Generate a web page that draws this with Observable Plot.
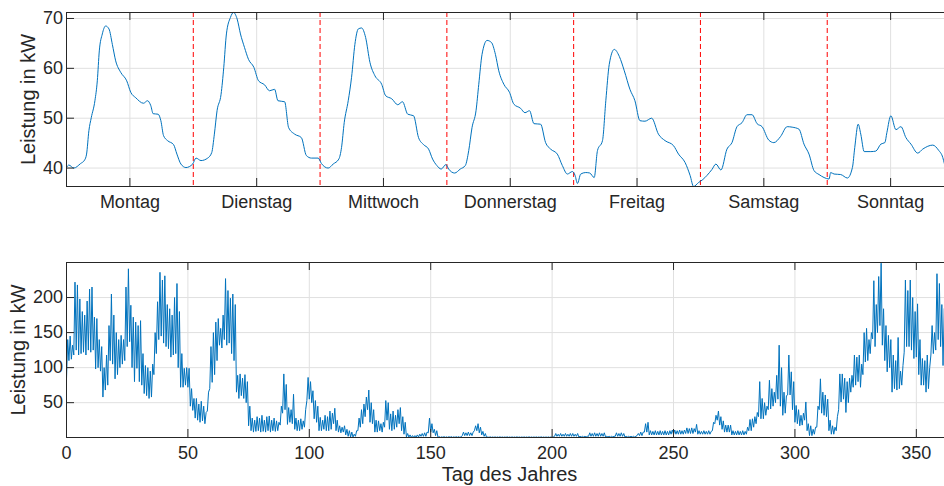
<!DOCTYPE html>
<html>
<head>
<meta charset="utf-8">
<script src="https://cdn.jsdelivr.net/npm/d3@7"></script>
<script src="https://cdn.jsdelivr.net/npm/@observablehq/plot@0.6"></script>
<style>
  body { margin: 0; background: #ffffff; }
  #chart svg { display: block; }
</style>
</head>
<body>
<div id="chart"></div>
<script>
// ---------- data: top panel (one week, hourly load) ----------
const weekDays = ["Montag", "Dienstag", "Mittwoch", "Donnerstag", "Freitag", "Samstag", "Sonntag"];
const weekHours = [
  0.0, 0.44, 1.39, 2.66, 3.42, 3.80, 4.24, 4.69, 5.38, 5.83, 6.21, 6.78, 7.41, 8.04, 8.68, 9.31, 10.26, 11.40,
  12.16, 13.11, 14.57, 15.33, 15.96, 16.40, 17.35, 17.86, 18.37, 19.13, 20.27, 20.90, 21.66, 22.61, 23.88,
  24.51, 25.46, 26.73, 27.49, 27.99, 28.50, 29.26, 29.77, 30.27, 31.03, 31.60, 32.30, 32.93, 33.69, 34.45,
  35.47, 36.35, 37.49, 38.44, 39.39, 40.03, 41.29, 42.05, 43.19, 44.46, 45.41, 46.36, 47.63,
  48.26, 49.53, 50.48, 51.55, 52.06, 52.57, 53.33, 53.96, 54.59, 55.23, 55.86, 56.62, 57.44, 58.39, 59.66,
  60.42, 61.56, 62.70, 63.60, 64.60, 65.69, 66.64, 67.59, 68.54, 69.30, 70.11, 70.93, 71.82,
  72.34, 73.48, 74.54, 75.49, 76.14, 76.76, 77.52, 78.04, 78.66, 79.61, 80.43, 81.19, 81.83, 82.79, 83.85,
  84.69, 85.94, 86.78, 87.65, 88.49, 89.74, 90.69, 91.64, 92.91, 93.86, 94.81, 95.76,
  96.28, 96.71, 97.34, 98.29, 99.05, 99.89, 100.51, 101.46, 102.09, 102.74, 103.69, 104.64, 105.59, 106.65,
  107.60, 108.55, 109.50, 110.77, 112.05, 113.30, 114.90, 115.85, 117.10, 118.05, 118.70, 119.65,
  120.46, 121.22, 122.17, 122.93, 123.88, 125.02, 125.97, 126.92, 127.87, 128.82, 129.77, 130.72, 131.67,
  132.94, 133.90, 135.15, 136.42, 137.37, 138.65, 139.60, 140.55, 141.50, 142.45, 143.40, 144.35,
  144.65, 145.30, 146.55, 147.82, 148.77, 149.21, 149.86, 150.35, 151.00, 152.25, 153.20, 154.15, 154.91,
  155.29, 156.05, 157.00, 157.95, 158.90, 159.85, 161.13, 162.08, 163.98, 165.06, 165.88, 166.2
];
const weekKW = [
  40.1, 40.6, 40.0, 40.9, 41.6, 42.8, 47.5, 50.1, 53.5, 57.5, 63.5, 66.9, 68.5, 67.9, 64.8, 61.5, 59.2, 57.5,
  55.2, 54.1, 53.0, 53.5, 52.5, 50.9, 50.8, 49.5, 46.5, 45.5, 44.7, 42.8, 40.8, 40.1, 40.8,
  42.0, 41.5, 42.0, 43.1, 46.8, 51.5, 54.8, 60.2, 66.9, 70.2, 71.2, 69.9, 66.9, 64.2, 61.8,
  60.2, 57.5, 56.7, 55.5, 55.8, 53.5, 53.3, 48.1, 46.8, 46.1, 42.5, 42.0, 42.0,
  40.9, 40.0, 40.8, 41.8, 44.1, 49.1, 53.5, 58.2, 64.8, 67.9, 68.1, 66.2, 61.2, 58.5, 56.8,
  54.5, 53.9, 52.7, 53.3, 50.8, 50.5, 46.1, 44.7, 43.8, 41.8, 40.5, 39.8, 40.7,
  39.8, 39.0, 39.8, 40.5, 43.5, 48.1, 51.5, 56.8, 62.8, 65.6, 65.2, 62.8, 59.5, 56.8, 55.2,
  52.8, 52.0, 51.1, 51.5, 48.9, 48.8, 45.1, 43.8, 42.8, 40.5, 38.8, 39.3,
  38.5, 36.9, 38.8, 39.1, 39.0, 38.1, 43.5, 45.5, 53.5, 60.8, 63.8, 62.4, 59.5, 55.8,
  53.5, 49.5, 49.4, 50.0, 46.8, 45.5, 44.5, 42.8, 41.1, 38.5, 36.3, 37.1,
  37.7, 38.5, 39.7, 40.8, 39.6, 43.8, 45.1, 48.3, 49.1, 50.7, 50.7, 48.9, 48.3,
  45.6, 45.1, 46.3, 48.3, 48.2, 47.8, 44.8, 42.8, 39.5, 38.7, 38.1, 37.8,
  39.1, 38.8, 38.7, 38.0, 40.1, 44.1, 48.8, 46.8, 43.3, 43.3, 43.4, 44.8, 45.1,
  47.1, 50.5, 47.7, 48.3, 46.1, 44.8, 43.0, 43.8, 44.6, 43.6, 42.1, 40.8
];
const weekYTicks = [40, 50, 60, 70];
const weekXDomain = [0, 166.2];
const weekYDomain = [36.3, 71.2];

// ---------- data: bottom panel (one year, daily low / high) ----------
const yearLow = [
  84,110,112,118,125,118,120,122,118,125,
  122,125,98,100,95,58,68,75,110,105,
  84,90,100,105,110,130,137,100,80,99,
  80,75,63,60,56,58,90,120,140,145,
  135,130,127,115,118,120,100,72,72,75,
  72,45,39,28,25,22,24,20,38,70,
  79,90,110,132,128,140,132,135,120,110,
  65,56,60,56,50,17,10,8,9,10,
  8,9,8,10,8,10,9,10,18,35,
  40,19,22,20,12,10,10,12,15,53,
  55,50,27,22,10,10,12,10,10,12,
  20,10,8,7,8,4,2,1,1,2,
  10,15,20,30,40,22,20,8,8,10,
  8,15,25,12,10,12,15,20,10,5,
  1,1,0.5,0.5,1,1,2,2,2,7,
  8,7,3,0.5,0.5,0.6,0.5,0.5,0.6,0.5,
  0.5,0.6,0.5,3,3,3,3,3,10,10,
  7,4,2,0.5,0.5,0.5,0.5,0.5,0.5,0.5,
  0.5,0.5,0.5,0.5,0.5,0.5,0.5,0.5,0.5,0.5,
  0.5,0.5,0.5,0.5,0.5,0.5,0.5,0.5,0.5,0.5,
  0.5,2,2,2,2,2,2,2,2,2,
  2,1,1,1,1,2,2,2,2,2,
  2,2,1,1,1,1,2,2,2,2,
  1,1,1,1,1,3,3,3,8,8,
  4,4,4,4,4,4,4,4,4,5,
  5,5,5,5,5,6,6,6,6,8,
  5,5,5,5,5,5,10,20,25,18,
  12,8,8,8,4,4,4,4,4,4,
  5,10,10,15,20,30,27,27,32,40,
  41,45,50,55,45,32,35,61,61,40,
  22,20,17,18,25,10,3,3,5,15,
  40,35,32,30,10,5,5,10,40,51,
  55,36,50,65,72,75,80,72,90,108,
  110,120,141,130,150,160,132,110,94,100,
  65,70,68,70,75,122,130,130,125,113,
  115,90,75,75,65,70,118,120,125,140,
  130,103
];
const yearHigh = [
  140,145,132,222,218,198,180,175,195,212,
  215,172,170,140,130,100,118,160,205,175,
  150,140,146,140,215,241,189,172,165,160,
  167,120,103,100,95,105,150,194,236,225,
  231,190,184,175,200,220,180,120,99,100,
  99,70,56,56,48,52,45,36,65,130,
  150,165,170,156,175,227,210,199,205,190,
  89,91,85,90,80,45,28,25,30,28,
  32,25,30,31,25,28,24,22,45,91,
  76,43,40,62,28,25,27,24,40,86,
  80,67,53,45,29,25,32,30,38,35,
  42,25,17,15,17,12,10,8,5,10,
  28,40,48,58,68,50,40,25,24,20,
  22,53,50,34,38,32,40,43,30,22,
  6,4,3,3,4,5,6,7,8,28,
  20,12,10,1.5,1.2,1.5,1.2,1.4,1.5,1.2,
  1.4,1.5,1.2,8,7,8,7,8,17,20,
  15,9,6,1,1.2,1,1.1,1,1.2,1,
  1,1.2,1,1.1,1,1.2,1,1,1.1,1,
  1.2,1,1,1.1,1,1.2,1,1,1.1,1,
  1.2,6,5,6,5,6,5,6,6,5,
  6,2,2,2,2,7,6,7,6,7,
  6,7,2,2,2,2,7,6,7,6,
  2,2,2,2,2,6,8,8,20,22,
  10,9,10,9,10,9,10,9,10,11,
  11,10,11,10,11,14,13,14,13,19,
  10,9,10,9,10,9,22,32,38,30,
  24,18,18,18,10,9,10,9,10,9,
  15,26,27,30,36,80,56,50,45,82,
  70,65,89,132,100,65,60,118,94,80,
  46,40,32,35,51,20,17,12,15,45,
  84,65,61,55,25,17,15,30,91,91,
  85,80,85,89,118,115,118,105,150,156,
  140,150,224,190,230,249,184,160,146,140,
  118,110,143,95,103,225,210,225,200,180,
  191,140,113,110,118,100,160,150,234,220,
  190,184
];
const yearXTicks = [0, 50, 100, 150, 200, 250, 300, 350];
const yearYTicks = [50, 100, 150, 200];
const yearXDomain = [0, 361.6];
const yearYDomain = [0.3, 250];

const yLabel = "Leistung in kW";
const xLabel = "Tag des Jahres";

// ---------- derived tables ----------
const week = weekHours.map((h, i) => ({h, kw: weekKW[i]}));
const dayCenters = weekDays.map((d, i) => i * 24 + 12);
const dayBounds = weekDays.slice(1).map((d, i) => (i + 1) * 24);
const year = [];
yearLow.forEach((lo, i) => {
  year.push({d: i, kw: lo});
  year.push({d: i + 0.5, kw: yearHigh[i]});
});

// ---------- styling ----------
const font = "'Liberation Sans', Arial, Helvetica, sans-serif";
const axisColor = "#262626";
const gridColor = "#e0e0e0";
const lineColor = "#0072BD";
const W = 944, ML = 66, MR = 0;
const tickLen = 8;
const plotW = W - ML - MR;

function panel({height, marginTop, marginBottom, xDomain, yDomain, xTicks, yTicks, xFormat, lineData, xKey, extra, xLabelMark, yLabelDx}) {
  const plotH = height - marginTop - marginBottom;
  return Plot.plot({
    width: W, height, marginLeft: ML, marginRight: MR, marginTop, marginBottom,
    style: {fontFamily: font, fontSize: "18px", color: axisColor, background: "#ffffff", overflow: "visible"},
    x: {domain: xDomain},
    y: {domain: yDomain},
    marks: [
      Plot.ruleX(xTicks, {stroke: gridColor, strokeWidth: 1}),
      Plot.ruleY(yTicks, {stroke: gridColor, strokeWidth: 1}),
      ...extra,
      Plot.line(lineData, {x: xKey, y: "kw", stroke: lineColor, strokeWidth: 1, curve: xKey === "h" ? "monotone-x" : "linear"}),
      // box lines (left, top, bottom)
      Plot.ruleX([xDomain[0]], {stroke: axisColor, strokeWidth: 1}),
      Plot.ruleY([yDomain[0]], {stroke: axisColor, strokeWidth: 1}),
      Plot.ruleY([yDomain[1]], {stroke: axisColor, strokeWidth: 1}),
      // inward tick marks
      Plot.ruleX(xTicks, {stroke: axisColor, insetTop: plotH - tickLen}),
      Plot.ruleX(xTicks, {stroke: axisColor, insetBottom: plotH - tickLen}),
      Plot.ruleY(yTicks, {stroke: axisColor, insetRight: plotW - tickLen}),
      Plot.axisX(xTicks, {tickSize: 0, tickPadding: 8.5, tickFormat: xFormat, label: null, fontSize: 18}),
      Plot.axisY(yTicks, {tickSize: 0, tickPadding: 3.5, label: null, fontSize: 18}),
      Plot.text([yLabel], {text: d => d, frameAnchor: "left", textAnchor: "middle", rotate: -90, dx: yLabelDx, lineAnchor: "top", fontSize: 20, fill: axisColor}),
      ...(xLabelMark ? [xLabelMark] : [])
    ]
  });
}

const topPlot = panel({
  height: 243, marginTop: 12, marginBottom: 57,
  xDomain: weekXDomain, yDomain: weekYDomain,
  xTicks: dayCenters, yTicks: weekYTicks,
  xFormat: d => weekDays[Math.round((d - 12) / 24)],
  lineData: week, xKey: "h",
  yLabelDx: -45.5,
  extra: [Plot.ruleX(dayBounds, {stroke: "#ff0000", strokeWidth: 1, strokeDasharray: "5,3"})]
});

const bottomPlot = panel({
  height: 243, marginTop: 19, marginBottom: 49,
  xDomain: yearXDomain, yDomain: yearYDomain,
  xTicks: yearXTicks, yTicks: yearYTicks,
  xFormat: d => String(d),
  lineData: year, xKey: "d",
  yLabelDx: -56,
  extra: [],
  xLabelMark: Plot.text([xLabel], {text: d => d, frameAnchor: "bottom", textAnchor: "middle", dy: 29.7, dx: 4, lineAnchor: "top", fontSize: 20, fill: axisColor})
});

const chart = document.getElementById("chart");
chart.appendChild(topPlot);
chart.appendChild(bottomPlot);
</script>
</body>
</html>
